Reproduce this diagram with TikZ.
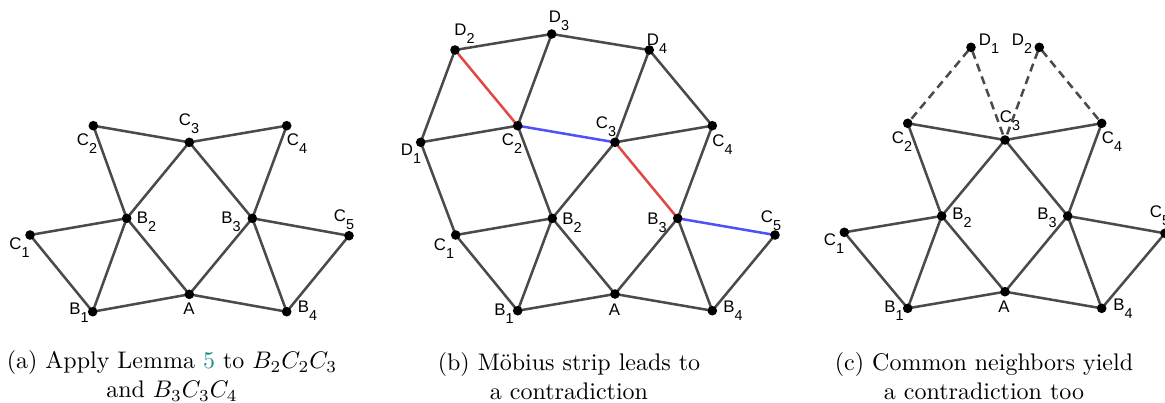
\documentclass[tikz,border=0pt]{standalone}
\usepackage{fontspec}
\newfontfamily\labfont{Liberation Sans}
\usepackage{tikz}
\definecolor{edgegray}{RGB}{74,74,74}
\definecolor{redge}{RGB}{222,72,72}
\definecolor{bedge}{RGB}{80,80,250}
\definecolor{lemmacol}{RGB}{30,140,140}
\newcommand\lb[2]{#1\raisebox{-3.3pt}{\fontsize{6}{6}\selectfont #2}}
\tikzset{
  dot/.style={circle,fill=black,inner sep=0pt,minimum size=3pt},
  lbl/.style={inner sep=0pt,font=\labfont\fontsize{7}{7}\selectfont},
  edge/.style={draw=edgegray,line width=1.05pt},
  redline/.style={draw=redge,line width=1.05pt},
  blueline/.style={draw=bedge,line width=1.05pt},
  dashline/.style={draw=edgegray,line width=1.05pt,dash pattern=on 3.4pt off 2.2pt},
  captext/.style={align=center,inner sep=0pt,font=\normalsize}
}
\newcommand\dotr{2pt}
\begin{document}
\begin{tikzpicture}[x=0.41667pt,y=-0.41667pt]
\useasboundingbox (0,0) rectangle (1165,402);
% ---------- panel (a) ----------
\node[dot] (aC1) at (30,235) {};
\node[dot] (aC2) at (93.3,125.7) {};
\node[dot] (aC3) at (189.3,142.3) {};
\node[dot] (aC4) at (286.7,125.7) {};
\node[dot] (aC5) at (349,235.7) {};
\node[dot] (aB1) at (92.7,311.7) {};
\node[dot] (aB2) at (126.7,218.3) {};
\node[dot] (aB3) at (252.3,218.3) {};
\node[dot] (aB4) at (286.7,311.7) {};
\node[dot] (aA) at (189.3,294.3) {};
\foreach \u/\v in {C2/C3,C3/C4,C2/B2,C3/B2,C3/B3,C4/B3,C1/B2,B2/B1,B2/A,C1/B1,B1/A,A/B4,A/B3,B3/C5,B3/B4,B4/C5}
  \draw[edge] (a\u) -- (a\v);
\foreach \n in {C1,C2,C3,C4,C5,B1,B2,B3,B4,A} \fill (a\n) circle (\dotr);
\node[lbl] (aC1l) at (19.5,247.5) {\lb C1};
\node[lbl] (aC2l) at (87,144) {\lb C2};
\node[lbl] (aC3l) at (189,124) {\lb C3};
\node[lbl] (aC4l) at (297,144) {\lb C4};
\node[lbl] (aC5l) at (344,220) {\lb C5};
\node[lbl] (aB1l) at (79,313) {\lb B1};
\node[lbl] (aB2l) at (146.5,222) {\lb B2};
\node[lbl] (aB3l) at (231,222) {\lb B3};
\node[lbl] (aB4l) at (307.5,311) {\lb B4};
\node[lbl] (aAl) at (189,309) {A};
% ---------- panel (b) ----------
\node[dot] (bD1) at (420.7,142.3) {};
\node[dot] (bD2) at (455,50) {};
\node[dot] (bD3) at (551.7,34) {};
\node[dot] (bD4) at (649.3,50) {};
\node[dot] (bC1) at (455.7,235) {};
\node[dot] (bC2) at (517.7,125.7) {};
\node[dot] (bC3) at (615,142.3) {};
\node[dot] (bC4) at (712.3,125.7) {};
\node[dot] (bC5) at (775,235) {};
\node[dot] (bB1) at (517.7,310.7) {};
\node[dot] (bB2) at (552.3,218.3) {};
\node[dot] (bB3) at (677.7,218.3) {};
\node[dot] (bB4) at (712.3,310.7) {};
\node[dot] (bA) at (615,294) {};
\foreach \u/\v in {D1/D2,D2/D3,D3/D4,D4/C4,D1/C2,D1/C1,D3/C2,D4/C3,C3/C4,C2/B2,C3/B2,C4/B3,C1/B2,B2/B1,B2/A,C1/B1,B1/A,A/B4,A/B3,B3/B4,B4/C5}
  \draw[edge] (b\u) -- (b\v);
\draw[redline] (bD2) -- (bC2);
\draw[redline] (bC3) -- (bB3);
\draw[blueline] (bC2) -- (bC3);
\draw[blueline] (bB3) -- (bC5);
\foreach \n in {D1,D2,D3,D4,C1,C2,C3,C4,C5,B1,B2,B3,B4,A} \fill (b\n) circle (\dotr);
\node[lbl] (bD1l) at (411,154) {\lb D1};
\node[lbl] (bD2l) at (464.5,34) {\lb D2};
\node[lbl] (bD3l) at (559,21) {\lb D3};
\node[lbl] (bD4l) at (657,43.5) {\lb D4};
\node[lbl] (bC1l) at (444,248.5) {\lb C1};
\node[lbl] (bC2l) at (512,144) {\lb C2};
\node[lbl] (bC3l) at (606,126.5) {\lb C3};
\node[lbl] (bC4l) at (722.5,145) {\lb C4};
\node[lbl] (bC5l) at (771,221) {\lb C5};
\node[lbl] (bB1l) at (504,314) {\lb B1};
\node[lbl] (bB2l) at (572,223) {\lb B2};
\node[lbl] (bB3l) at (657,223) {\lb B3};
\node[lbl] (bB4l) at (733,311) {\lb B4};
\node[lbl] (bAl) at (614.5,310) {A};
% ---------- panel (c) ----------
\node[dot] (cD1) at (971,47.3) {};
\node[dot] (cD2) at (1039.3,47.3) {};
\node[dot] (cC1) at (844.3,232.3) {};
\node[dot] (cC2) at (907.7,123.3) {};
\node[dot] (cC3) at (1005,140) {};
\node[dot] (cC4) at (1101.7,123.3) {};
\node[dot] (cC5) at (1165,233.3) {};
\node[dot] (cB1) at (907.7,308.3) {};
\node[dot] (cB2) at (941.7,216) {};
\node[dot] (cB3) at (1067.7,216) {};
\node[dot] (cB4) at (1101.7,308.3) {};
\node[dot] (cA) at (1005,291.7) {};
\foreach \u/\v in {D1/C2,D1/C3,D2/C3,D2/C4}
  \draw[dashline] (c\u) -- (c\v);
\foreach \u/\v in {C2/C3,C3/C4,C2/B2,C3/B2,C3/B3,C4/B3,C1/B2,B2/B1,B2/A,C1/B1,B1/A,A/B4,A/B3,B3/C5,B3/B4,B4/C5}
  \draw[edge] (c\u) -- (c\v);
\foreach \n in {D1,D2,C1,C2,C3,C4,C5,B1,B2,B3,B4,A} \fill (c\n) circle (\dotr);
\node[lbl] (cD1l) at (989,44) {\lb D1};
\node[lbl] (cD2l) at (1022,44) {\lb D2};
\node[lbl] (cC1l) at (834,244) {\lb C1};
\node[lbl] (cC2l) at (902,142) {\lb C2};
\node[lbl] (cC3l) at (1010,121) {\lb C3};
\node[lbl] (cC4l) at (1112,142) {\lb C4};
\node[lbl] (cC5l) at (1160,216) {\lb C5};
\node[lbl] (cB1l) at (894,311) {\lb B1};
\node[lbl] (cB2l) at (962,218) {\lb B2};
\node[lbl] (cB3l) at (1047,218) {\lb B3};
\node[lbl] (cB4l) at (1123,309) {\lb B4};
\node[lbl] (cAl) at (1004,307) {A};
% ---------- captions ----------
\node[captext] (capa) at (172,376) {(a) Apply Lemma \textcolor{lemmacol}{5} to $B_2C_2C_3$\\and $B_3C_3C_4$};
\node[captext] (capb) at (569,376) {(b) M\"obius strip leads to\\a contradiction};
\node[captext] (capc) at (984,376) {(c) Common neighbors yield\\a contradiction too};
\end{tikzpicture}
\end{document}
